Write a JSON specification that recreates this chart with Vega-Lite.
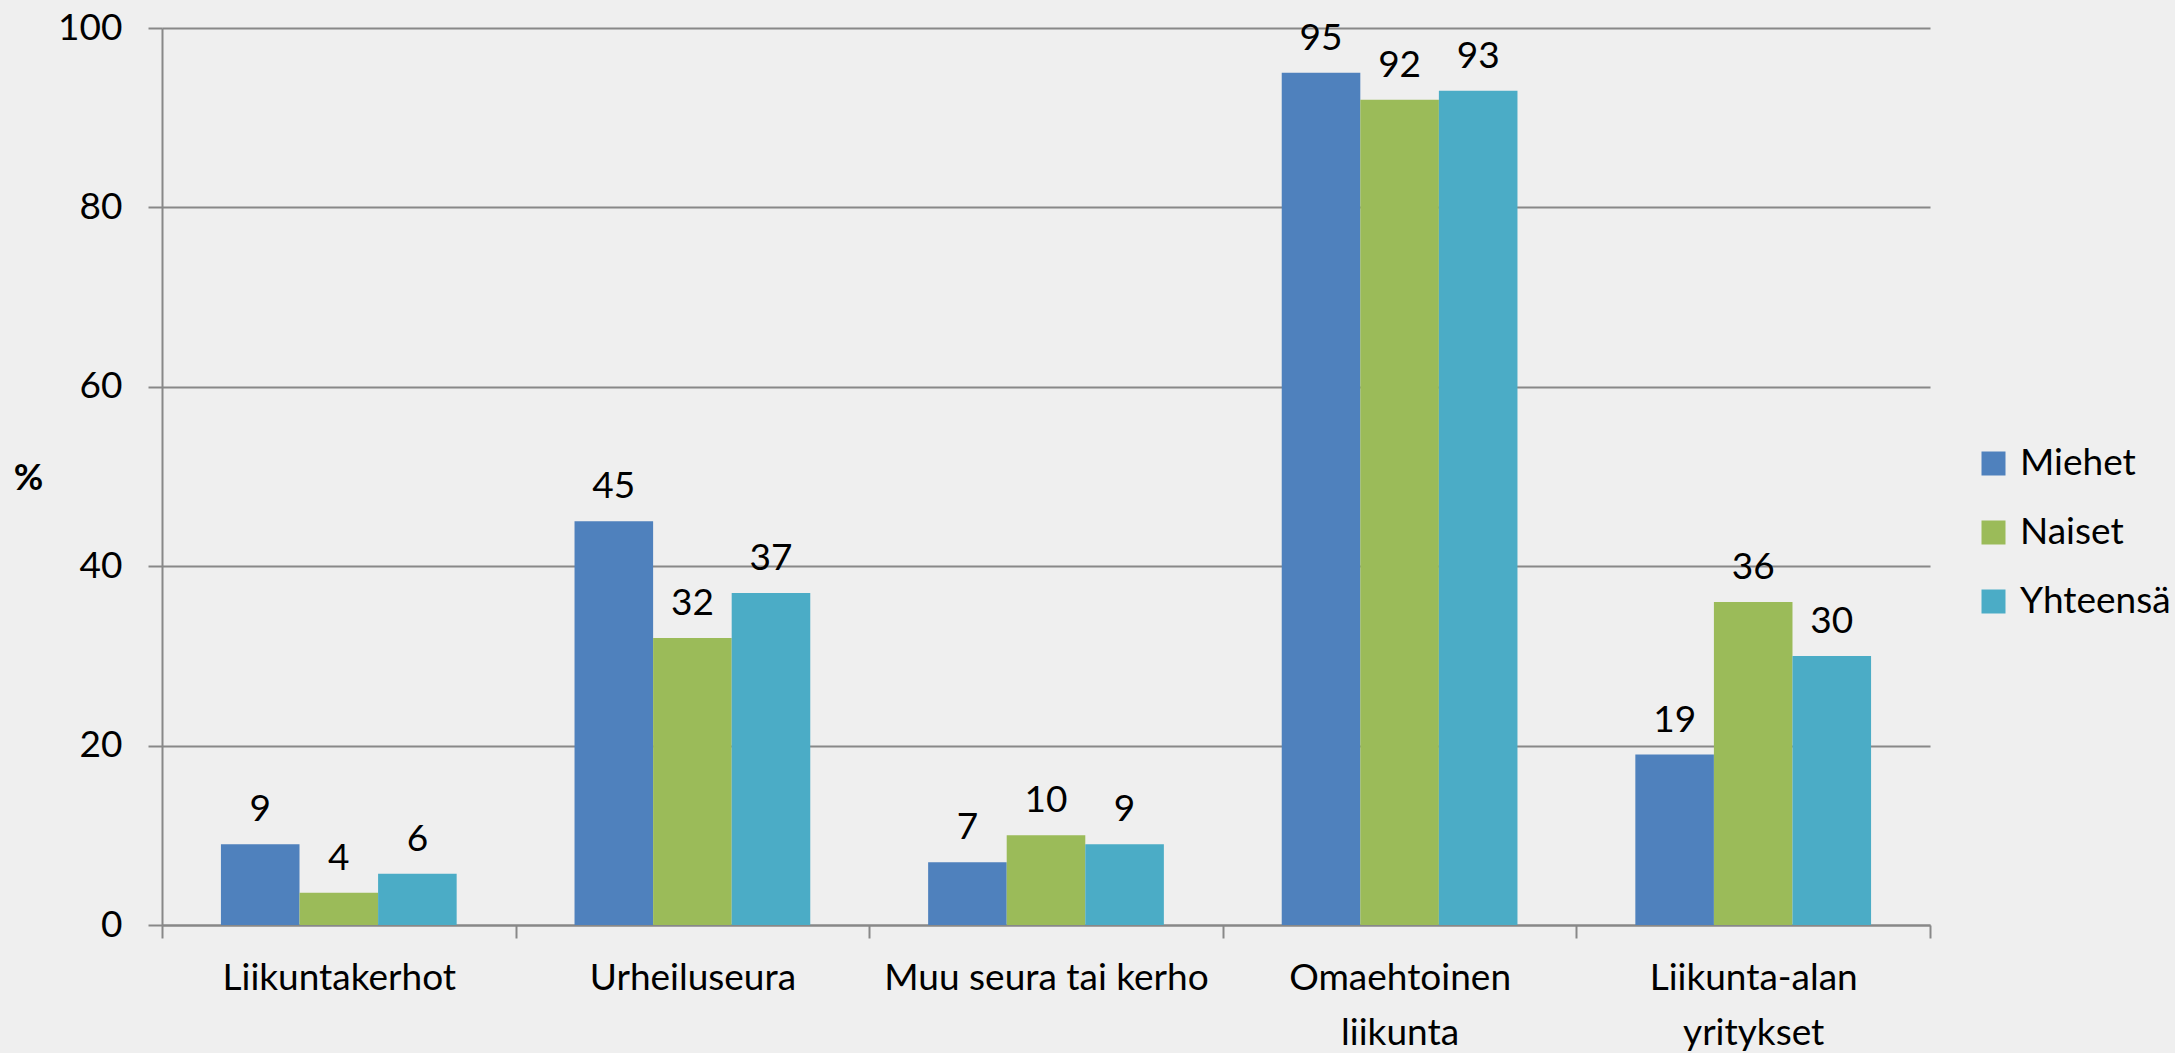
{
  "$schema": "https://vega.github.io/schema/vega-lite/v6.json",
  "autosize": {"type": "none"},
  "padding": {"left": 162, "top": 28, "right": 245, "bottom": 128},
  "width": 1768,
  "height": 897,
  "background": "#efefef",
  "data": {
    "values": [
      {"kategoria": "Liikuntakerhot", "ryhma": "Miehet", "arvo": 9, "nimi": "9"},
      {"kategoria": "Liikuntakerhot", "ryhma": "Naiset", "arvo": 3.6, "nimi": "4"},
      {"kategoria": "Liikuntakerhot", "ryhma": "Yhteensä", "arvo": 5.7, "nimi": "6"},
      {"kategoria": "Urheiluseura", "ryhma": "Miehet", "arvo": 45, "nimi": "45"},
      {"kategoria": "Urheiluseura", "ryhma": "Naiset", "arvo": 32, "nimi": "32"},
      {"kategoria": "Urheiluseura", "ryhma": "Yhteensä", "arvo": 37, "nimi": "37"},
      {"kategoria": "Muu seura tai kerho", "ryhma": "Miehet", "arvo": 7, "nimi": "7"},
      {"kategoria": "Muu seura tai kerho", "ryhma": "Naiset", "arvo": 10, "nimi": "10"},
      {"kategoria": "Muu seura tai kerho", "ryhma": "Yhteensä", "arvo": 9, "nimi": "9"},
      {"kategoria": "Omaehtoinen liikunta", "ryhma": "Miehet", "arvo": 95, "nimi": "95"},
      {"kategoria": "Omaehtoinen liikunta", "ryhma": "Naiset", "arvo": 92, "nimi": "92"},
      {"kategoria": "Omaehtoinen liikunta", "ryhma": "Yhteensä", "arvo": 93, "nimi": "93"},
      {"kategoria": "Liikunta-alan yritykset", "ryhma": "Miehet", "arvo": 19, "nimi": "19"},
      {"kategoria": "Liikunta-alan yritykset", "ryhma": "Naiset", "arvo": 36, "nimi": "36"},
      {"kategoria": "Liikunta-alan yritykset", "ryhma": "Yhteensä", "arvo": 30, "nimi": "30"}
    ]
  },
  "encoding": {
    "x": {
      "field": "kategoria",
      "type": "nominal",
      "sort": null,
      "scale": {"paddingInner": 0, "paddingOuter": 0},
      "axis": {
        "title": null,
        "labelAngle": 0,
        "labelFont": "Lato",
        "labelFontSize": 37,
        "labelColor": "#000000",
        "labelLimit": 0,
        "labelPadding": 22,
        "labelLineHeight": 55,
        "labelBaseline": "top",
        "labelExpr": "datum.value == 'Omaehtoinen liikunta' ? ['Omaehtoinen', 'liikunta'] : datum.value == 'Liikunta-alan yritykset' ? ['Liikunta-alan', 'yritykset'] : datum.value",
        "tickBand": "extent",
        "tickSize": 13,
        "tickColor": "#888888",
        "tickWidth": 2,
        "domainColor": "#888888",
        "domainWidth": 2,
        "grid": false
      }
    },
    "xOffset": {
      "field": "ryhma",
      "type": "nominal",
      "scale": {"paddingInner": 0, "paddingOuter": 0.75}
    },
    "y": {
      "field": "arvo",
      "type": "quantitative",
      "scale": {"domain": [0, 100]},
      "axis": {
        "title": "%",
        "titleAngle": 0,
        "titleFont": "Lato",
        "titleFontSize": 36,
        "titleFontWeight": "bold",
        "titleColor": "#000000",
        "titleX": -134,
        "titleY": 450,
        "titleAlign": "center",
        "titleBaseline": "middle",
        "values": [0, 20, 40, 60, 80, 100],
        "labelFont": "Lato",
        "labelFontSize": 37,
        "labelColor": "#000000",
        "labelPadding": 26,
        "tickSize": 14,
        "tickColor": "#888888",
        "tickWidth": 2,
        "domainColor": "#888888",
        "domainWidth": 2,
        "gridColor": "#888888",
        "gridWidth": 2
      }
    }
  },
  "layer": [
    {
      "mark": {"type": "bar"},
      "encoding": {
        "color": {
          "field": "ryhma",
          "type": "nominal",
          "scale": {"domain": ["Miehet", "Naiset", "Yhteensä"], "range": ["#4f81bd", "#9bbb59", "#4bacc6"]},
          "legend": {
            "title": null,
            "orient": "none",
            "legendX": 1813,
            "legendY": 417,
            "padding": 0,
            "symbolType": "square",
            "symbolSize": 576,
            "symbolStrokeWidth": 0,
            "labelFont": "Lato",
            "labelFontSize": 37,
            "labelLimit": 0,
            "labelColor": "#000000",
            "labelOffset": 8,
            "rowPadding": 31
          }
        }
      }
    },
    {
      "mark": {"type": "text", "baseline": "alphabetic", "dy": -23, "font": "Lato", "fontSize": 37, "color": "#000000"},
      "encoding": {
        "text": {"field": "nimi", "type": "nominal"}
      }
    }
  ],
  "config": {"view": {"stroke": null}}
}
